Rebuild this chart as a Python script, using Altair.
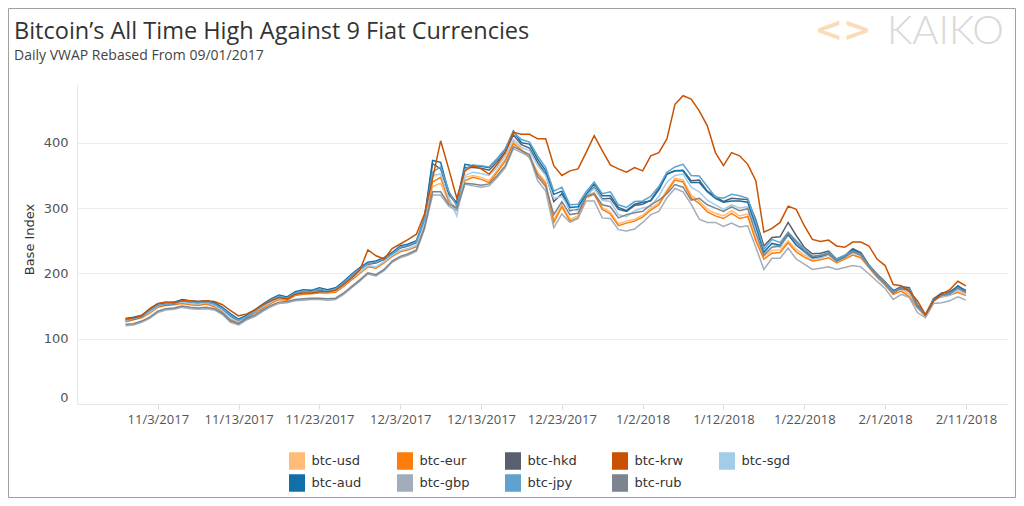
import altair as alt
import pandas as pd

# ---- data (daily VWAP rebased index) ----
start_date = "2017-10-30"
series_names = ["btc-usd", "btc-eur", "btc-hkd", "btc-krw", "btc-sgd",
                "btc-aud", "btc-gbp", "btc-jpy", "btc-rub"]
series_colors = ["#ffbc79", "#fc7d0b", "#57606c", "#c85200", "#a3cce9",
                 "#1170aa", "#a3acb9", "#5fa2ce", "#7b848f"]

usd = [127,130,133,140,149,152,153,155,153,152,154,150,142,130,125,133,140,148,155,161,160,167,169,170,171,171,172,181,191,201,211,209,217,227,234,237,242,275,
       333,338,309,301,347,
       350,347,342,358,375,402,390,380,355,340,282,305,283,288,319,324,301,294,276,280,283,
       289,300,308,328,346,343,320,311,298,292,288,296,288,291,254,226,235,236,250,237,228,222,224,228,220,226,231,227,212,197,185,171,176,168,150,136,161,166,170,174,169]
eur = [126,129,132,139,148,151,152,154,152,151,153,149,141,129,124,132,139,147,154,160,159,166,168,169,170,170,171,180,190,200,210,208,216,226,233,236,241,274,
       340,347,311,298,342,
       347,344,339,355,372,399,388,377,352,337,278,302,280,285,316,321,298,291,273,277,280,
       286,297,305,325,343,340,316,307,294,288,284,292,284,287,250,222,231,232,247,233,225,219,221,224,216,222,228,224,209,194,182,168,173,164,147,134,160,164,167,171,166]
hkd = [128,130,133,142,150,152,153,157,155,154,155,152,145,135,127,133,141,150,158,164,161,169,172,171,175,172,175,185,196,206,214,216,221,229,239,242,247,282,
       368,360,321,306,362,
       362,361,358,371,386,412,397,392,370,352,310,322,296,298,318,332,314,315,298,295,304,
       306,312,330,352,357,358,342,343,326,318,310,315,314,313,282,242,255,256,278,258,240,230,231,234,222,227,238,232,213,199,187,173,180,178,152,137,161,170,172,180,174]
krw = [130,132,135,146,154,156,155,158,158,157,158,157,152,143,135,138,144,152,158,163,161,168,170,170,172,172,174,183,193,205,236,227,222,238,245,252,260,291,
       345,403,360,315,357,
       365,360,352,367,385,416,413,413,406,406,365,350,357,360,385,411,388,366,360,355,362,
       357,380,385,406,459,472,467,449,426,385,365,385,380,367,342,263,269,278,303,298,273,252,249,251,242,240,248,248,242,222,212,183,181,172,158,137,158,168,175,188,181]
sgd = [128,131,134,141,150,153,154,156,154,153,155,151,143,131,126,134,141,149,156,162,161,168,170,171,172,172,173,182,192,202,212,210,218,228,235,238,243,276,
       350,352,316,288,350,
       355,353,350,363,380,405,393,388,365,350,315,318,298,296,318,330,312,310,290,287,296,
       300,303,318,340,350,352,332,325,312,305,298,305,300,302,270,235,245,240,258,245,232,222,224,228,218,224,232,227,210,196,184,171,176,172,148,135,158,165,166,175,169]
aud = [131,133,136,145,153,155,156,160,158,157,158,155,148,138,130,136,144,153,161,167,164,172,175,174,178,175,178,188,199,209,217,219,224,232,242,245,250,285,
       373,370,324,308,367,
       365,364,362,375,390,418,400,398,375,357,321,326,301,302,321,337,319,319,301,296,306,
       309,311,328,352,357,357,339,339,325,315,309,311,311,309,273,232,246,243,260,243,234,224,226,230,219,225,236,230,212,198,186,174,177,175,149,136,160,167,168,181,172]
gbp = [120,121,125,131,140,144,145,148,146,145,146,144,137,125,121,129,134,142,149,154,155,158,159,160,160,159,160,168,178,188,199,196,204,217,224,228,234,268,
       320,320,303,296,337,
       334,332,334,347,362,391,385,379,342,326,270,291,278,284,311,311,285,284,267,265,268,
       278,290,295,316,330,325,306,283,278,278,272,277,271,273,240,206,223,223,239,222,214,206,208,210,206,209,212,210,199,188,177,160,168,163,140,132,154,155,158,164,159]
jpy = [129,131,134,143,151,153,154,158,156,155,156,153,146,136,128,134,142,151,159,165,162,170,173,172,176,173,176,186,197,207,215,217,222,230,240,243,248,283,
       355,363,326,303,360,
       366,365,363,376,391,416,405,401,380,362,326,332,305,306,325,340,322,325,305,301,310,
       311,318,333,355,363,367,350,349,333,317,315,321,319,315,278,237,252,247,263,250,238,226,228,232,222,228,234,229,212,198,186,172,178,176,150,136,159,166,168,178,170]
rub = [122,123,127,133,142,146,147,150,148,147,148,146,139,127,123,131,136,144,151,156,157,160,161,162,162,161,162,170,180,190,201,198,206,219,226,230,236,270,
       325,325,306,300,338,
       337,335,337,350,365,394,388,382,348,333,290,310,290,292,318,322,305,302,285,290,293,
       295,305,312,322,336,332,312,315,305,300,295,302,296,299,262,228,240,242,262,248,235,226,227,230,220,225,233,228,210,196,184,170,178,176,150,136,158,167,170,177,172]

y_ticks = [0, 100, 200, 300, 400]
x_tick_dates = ["2017-11-03", "2017-11-13", "2017-11-23", "2017-12-03", "2017-12-13",
                "2017-12-23", "2018-01-02", "2018-01-12", "2018-01-22", "2018-02-01",
                "2018-02-11"]

title_text = "Bitcoin\u2019s All Time High Against 9 Fiat Currencies"
subtitle_text = "Daily VWAP Rebased From 09/01/2017"

# ---- build long table ----
values_by_series = {
    "btc-usd": usd, "btc-eur": eur, "btc-hkd": hkd, "btc-sgd": sgd,
    "btc-aud": aud, "btc-gbp": gbp, "btc-jpy": jpy, "btc-rub": rub, "btc-krw": krw,
}
n = len(usd)
for k, v in values_by_series.items():
    assert len(v) == n, (k, len(v))
dates = pd.date_range(start_date, periods=n, freq="D")
rows = []
for name, vals in values_by_series.items():
    for d, v in zip(dates, vals):
        rows.append({"date": d.strftime("%Y-%m-%dT00:00:00Z"), "series": name, "value": v})
df = pd.DataFrame(rows)


def dt(s, hours=0):
    t = pd.Timestamp(s)
    return alt.DateTime(year=t.year, month=t.month, date=t.day, hours=hours, utc=True)


# legend swatch: a square filled by closely spaced stroked rows (line legends are stroke-only)
swatch_path = "".join("M-1,%.4fH1" % (-1 + k * 0.125) for k in range(17))

PLOT_W, PLOT_H = 931, 320

lines = alt.Chart(df).mark_line(strokeWidth=1.5).encode(
    x=alt.X("date:T",
            scale=alt.Scale(type="utc", domain=[dt("2017-10-24"), dt("2018-02-16", 5)]),
            axis=alt.Axis(values=[dt(s) for s in x_tick_dates], format="%-m/%-d/%Y",
                          title=None, grid=False, labelFont="Open Sans", labelFontSize=13,
                          labelColor="#555555", tickColor="#dddddd", tickSize=5,
                          labelPadding=4, domainColor="#e6e6e6")),
    y=alt.Y("value:Q",
            scale=alt.Scale(domain=[0, 490], nice=False, zero=True),
            axis=alt.Axis(values=y_ticks, title="Base Index", titleFont="DejaVu Sans",
                          titleFontSize=13, titleFontWeight="normal", titleColor="#333333",
                          titleX=-41, titleY=155, labelFont="DejaVu Sans", labelFontSize=13,
                          labelColor="#555555", labelPadding=9, ticks=False, labelFlush=True,
                          domainColor="#e8e8e8", gridColor="#ececec")),
    color=alt.Color("series:N",
                    scale=alt.Scale(domain=series_names, range=series_colors),
                    legend=alt.Legend(title=None, orient="none", legendX=211, legendY=368,
                                      direction="horizontal", columns=5,
                                      symbolType=swatch_path, symbolSize=256,
                                      symbolStrokeWidth=1.5, symbolOpacity=1,
                                      labelFont="DejaVu Sans", labelFontSize=13,
                                      labelColor="#333333", labelOffset=5.5,
                                      columnPadding=32, rowPadding=0, padding=0)),
)

title_df = pd.DataFrame({"t": [title_text]})
sub_df = pd.DataFrame({"t": [subtitle_text]})
logo_df = pd.DataFrame({"t": ["KAIKO"]})
icon_df = pd.DataFrame({"t": ["<>"]})
frame_df = pd.DataFrame({"a": [0]})

title = alt.Chart(title_df).mark_text(align="left", baseline="middle", font="Open Sans",
                                      fontSize=23.5, color="#333333").encode(
    x=alt.value(-63), y=alt.value(-52), text="t:N")
subtitle = alt.Chart(sub_df).mark_text(align="left", baseline="middle", font="Open Sans",
                                       fontSize=14, color="#444444").encode(
    x=alt.value(-63), y=alt.value(-28), text="t:N")
logo = alt.Chart(logo_df).mark_text(align="right", baseline="middle", font="Lato",
                                    fontSize=40, fontWeight=300, color="#d9d9d9").encode(
    x=alt.value(927), y=alt.value(-52), text="t:N")
icon = alt.Chart(icon_df).mark_text(align="center", baseline="middle", font="DejaVu Sans",
                                    fontSize=34, fontWeight="bold", color="#fbdcb9").encode(
    x=alt.value(766), y=alt.value(-53), text="t:N")
frame = alt.Chart(frame_df).mark_rect(filled=False, stroke="#a0a0a0", strokeWidth=1).encode(
    x=alt.value(-68.5), x2=alt.value(938.5), y=alt.value(-75.5), y2=alt.value(413.5))

chart = alt.layer(frame, lines, title, subtitle, logo, icon).properties(
    width=PLOT_W, height=PLOT_H,
    autosize=alt.AutoSizeParams(type="none"),
    padding={"left": 69, "top": 76, "right": 8, "bottom": 94},
    background="white",
).configure_view(stroke=None)

chart.save("out.html", embed_options={"renderer": "svg", "actions": False})
